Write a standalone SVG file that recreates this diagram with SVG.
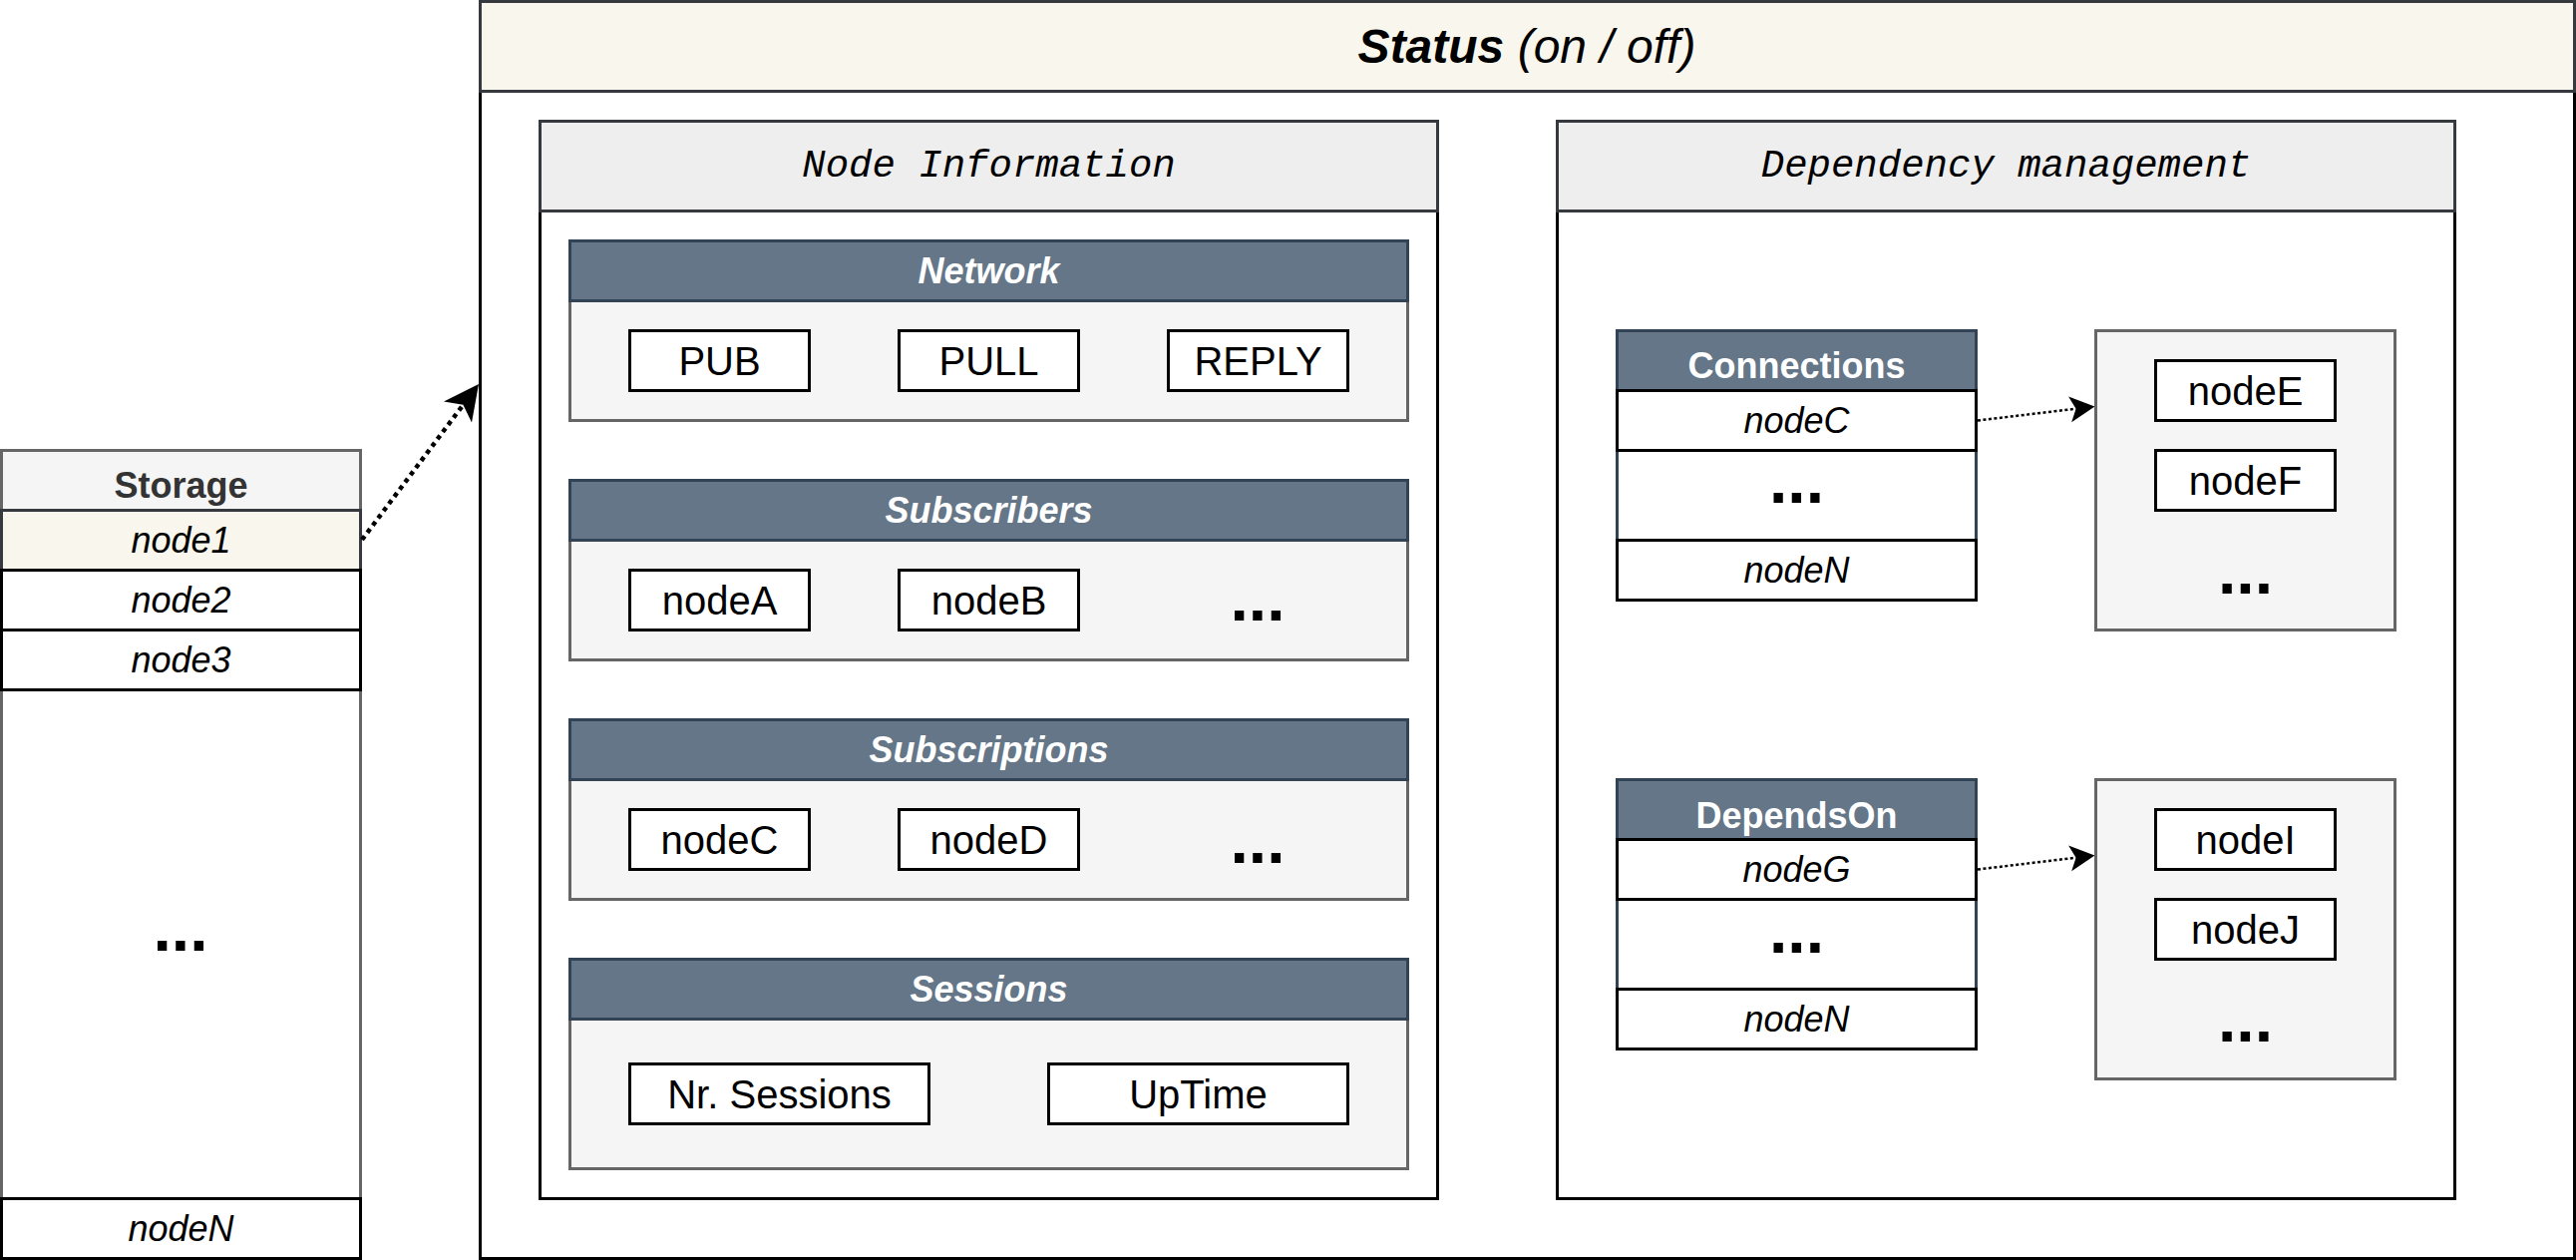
<svg xmlns="http://www.w3.org/2000/svg" width="2583" height="1263" viewBox="0 0 2583 1263">
<style>
.box{fill:#fff;stroke:#000;stroke-width:3}
.grp{fill:#f5f5f5;stroke:#666;stroke-width:3}
.ghdr{fill:#647687;stroke:#314354;stroke-width:3}
.lhdr{fill:#eeeeee;stroke:#36393d;stroke-width:3}
.t{font-family:"Liberation Sans",Arial,sans-serif;font-size:36px;text-anchor:middle;fill:#000}
.lbl{font-size:40px}
.it{font-style:italic}
.b{font-weight:bold}
.w{fill:#fff}
.mono{font-family:"Liberation Mono","Courier New",monospace;font-size:39px;font-style:italic;text-anchor:middle;fill:#000}
.dots{font-size:66px;font-weight:bold}
.conn{fill:none;stroke:#000}
</style>
<defs>
<marker id="ahBig" markerUnits="userSpaceOnUse" viewBox="-12 -20 42 40" markerWidth="42" markerHeight="40" refX="0" refY="0" orient="auto"><path d="M26,0 L-9,-17.5 L0,0 L-9,17.5 Z" fill="#000"/></marker>
<marker id="ahSmall" markerUnits="userSpaceOnUse" viewBox="-8 -15 30 30" markerWidth="30" markerHeight="30" refX="0" refY="0" orient="auto"><path d="M19,0 L-6,-13 L0,0 L-6,13 Z" fill="#000"/></marker>
</defs>
<rect width="2583" height="1263" fill="#fff"/>

<g id="status">
<rect x="481.5" y="1.5" width="2100" height="1260" fill="#fff" stroke="#000" stroke-width="3"/>
<rect x="481.5" y="1.5" width="2100" height="90" fill="#f9f7ed" stroke="#36393d" stroke-width="3"/>
<text class="t" x="1531" y="63" style="font-size:48px"><tspan class="b it">Status</tspan><tspan class="it"> (on / off)</tspan></text>
</g>

<g id="node-information">
<rect class="box" x="541.5" y="121.5" width="900" height="1080"/>
<rect class="lhdr" x="541.5" y="121.5" width="900" height="90"/>
<text class="mono" x="991.5" y="177">Node Information</text>
</g>

<g id="network">
<rect class="grp" x="571.5" y="241.5" width="840" height="180"/>
<rect class="ghdr" x="571.5" y="241.5" width="840" height="60"/>
<text class="t b it w" x="991.5" y="284">Network</text>
</g>
<g id="pub"><rect class="box" x="631.5" y="331.5" width="180" height="60"/><text class="t lbl" x="721.5" y="375.5">PUB</text></g>
<g id="pull"><rect class="box" x="901.5" y="331.5" width="180" height="60"/><text class="t lbl" x="991.5" y="375.5">PULL</text></g>
<g id="reply"><rect class="box" x="1171.5" y="331.5" width="180" height="60"/><text class="t lbl" x="1261.5" y="375.5">REPLY</text></g>

<g id="subscribers">
<rect class="grp" x="571.5" y="481.5" width="840" height="180"/>
<rect class="ghdr" x="571.5" y="481.5" width="840" height="60"/>
<text class="t b it w" x="991.5" y="524">Subscribers</text>
<text class="t dots" x="1261" y="622">...</text>
</g>
<g id="nodeA"><rect class="box" x="631.5" y="571.5" width="180" height="60"/><text class="t lbl" x="721.5" y="615.5">nodeA</text></g>
<g id="nodeB"><rect class="box" x="901.5" y="571.5" width="180" height="60"/><text class="t lbl" x="991.5" y="615.5">nodeB</text></g>

<g id="subscriptions">
<rect class="grp" x="571.5" y="721.5" width="840" height="180"/>
<rect class="ghdr" x="571.5" y="721.5" width="840" height="60"/>
<text class="t b it w" x="991.5" y="764">Subscriptions</text>
<text class="t dots" x="1261" y="865">...</text>
</g>
<g id="nodeC"><rect class="box" x="631.5" y="811.5" width="180" height="60"/><text class="t lbl" x="721.5" y="855.5">nodeC</text></g>
<g id="nodeD"><rect class="box" x="901.5" y="811.5" width="180" height="60"/><text class="t lbl" x="991.5" y="855.5">nodeD</text></g>

<g id="sessions">
<rect class="grp" x="571.5" y="961.5" width="840" height="210"/>
<rect class="ghdr" x="571.5" y="961.5" width="840" height="60"/>
<text class="t b it w" x="991.5" y="1004">Sessions</text>
</g>
<g id="nr-sessions"><rect class="box" x="631.5" y="1066.5" width="300" height="60"/><text class="t lbl" x="781.5" y="1110.5">Nr. Sessions</text></g>
<g id="uptime"><rect class="box" x="1051.5" y="1066.5" width="300" height="60"/><text class="t lbl" x="1201.5" y="1110.5">UpTime</text></g>

<g id="dependency-management">
<rect class="box" x="1561.5" y="121.5" width="900" height="1080"/>
<rect class="lhdr" x="1561.5" y="121.5" width="900" height="90"/>
<text class="mono" x="2011.5" y="177">Dependency management</text>
</g>

<g id="connections">
<rect x="1621.5" y="331.5" width="360" height="270" fill="#fff" stroke="#314354" stroke-width="3"/>
<rect class="ghdr" x="1621.5" y="331.5" width="360" height="60"/>
<text class="t b w" x="1801.5" y="379">Connections</text>
<rect class="box" x="1621.5" y="391.5" width="360" height="60"/>
<text class="t it" x="1801.5" y="434">nodeC</text>
<text class="t dots" x="1801.5" y="504">...</text>
<rect class="box" x="1621.5" y="541.5" width="360" height="60"/>
<text class="t it" x="1801.5" y="584">nodeN</text>
</g>

<g id="connections-targets">
<rect class="grp" x="2101.5" y="331.5" width="300" height="300"/>
<text class="t dots" x="2251.5" y="595">...</text>
</g>
<g id="nodeE"><rect class="box" x="2161.5" y="361.5" width="180" height="60"/><text class="t lbl" x="2251.5" y="405.5">nodeE</text></g>
<g id="nodeF"><rect class="box" x="2161.5" y="451.5" width="180" height="60"/><text class="t lbl" x="2251.5" y="495.5">nodeF</text></g>

<g id="dependson">
<rect x="1621.5" y="781.5" width="360" height="270" fill="#fff" stroke="#314354" stroke-width="3"/>
<rect class="ghdr" x="1621.5" y="781.5" width="360" height="60"/>
<text class="t b w" x="1801.5" y="829.5">DependsOn</text>
<rect class="box" x="1621.5" y="841.5" width="360" height="60"/>
<text class="t it" x="1801.5" y="884">nodeG</text>
<text class="t dots" x="1801.5" y="955">...</text>
<rect class="box" x="1621.5" y="991.5" width="360" height="60"/>
<text class="t it" x="1801.5" y="1034">nodeN</text>
</g>

<g id="dependson-targets">
<rect class="grp" x="2101.5" y="781.5" width="300" height="300"/>
<text class="t dots" x="2251.5" y="1044">...</text>
</g>
<g id="nodeI"><rect class="box" x="2161.5" y="811.5" width="180" height="60"/><text class="t lbl" x="2251.5" y="855.5">nodeI</text></g>
<g id="nodeJ"><rect class="box" x="2161.5" y="901.5" width="180" height="60"/><text class="t lbl" x="2251.5" y="945.5">nodeJ</text></g>

<g id="storage">
<rect x="1.5" y="451.5" width="360" height="810" fill="#fff" stroke="#666" stroke-width="3"/>
<rect x="1.5" y="451.5" width="360" height="60" fill="#f5f5f5" stroke="#666" stroke-width="3"/>
<text class="t b" x="181.5" y="499" style="fill:#333">Storage</text>
<rect x="1.5" y="511.5" width="360" height="60" fill="#f9f7ed" stroke="#36393d" stroke-width="3"/>
<text class="t it" x="181.5" y="554">node1</text>
<rect class="box" x="1.5" y="571.5" width="360" height="60"/>
<text class="t it" x="181.5" y="614">node2</text>
<rect class="box" x="1.5" y="631.5" width="360" height="60"/>
<text class="t it" x="181.5" y="674">node3</text>
<text class="t dots" x="181" y="953">...</text>
<rect class="box" x="1.5" y="1201.5" width="360" height="60"/>
<text class="t it" x="181.5" y="1244">nodeN</text>
</g>

<g id="connectors">
<path class="conn" d="M363,541 L464.4,405.8" stroke-width="4.5" stroke-dasharray="4.5 4.5" marker-end="url(#ahBig)"/>
<path class="conn" d="M1983,421.5 L2081.6,409.7" stroke-width="2.5" stroke-dasharray="3 2.5" marker-end="url(#ahSmall)"/>
<path class="conn" d="M1983,871.5 L2081.6,859.7" stroke-width="2.5" stroke-dasharray="3 2.5" marker-end="url(#ahSmall)"/>
</g>
</svg>
